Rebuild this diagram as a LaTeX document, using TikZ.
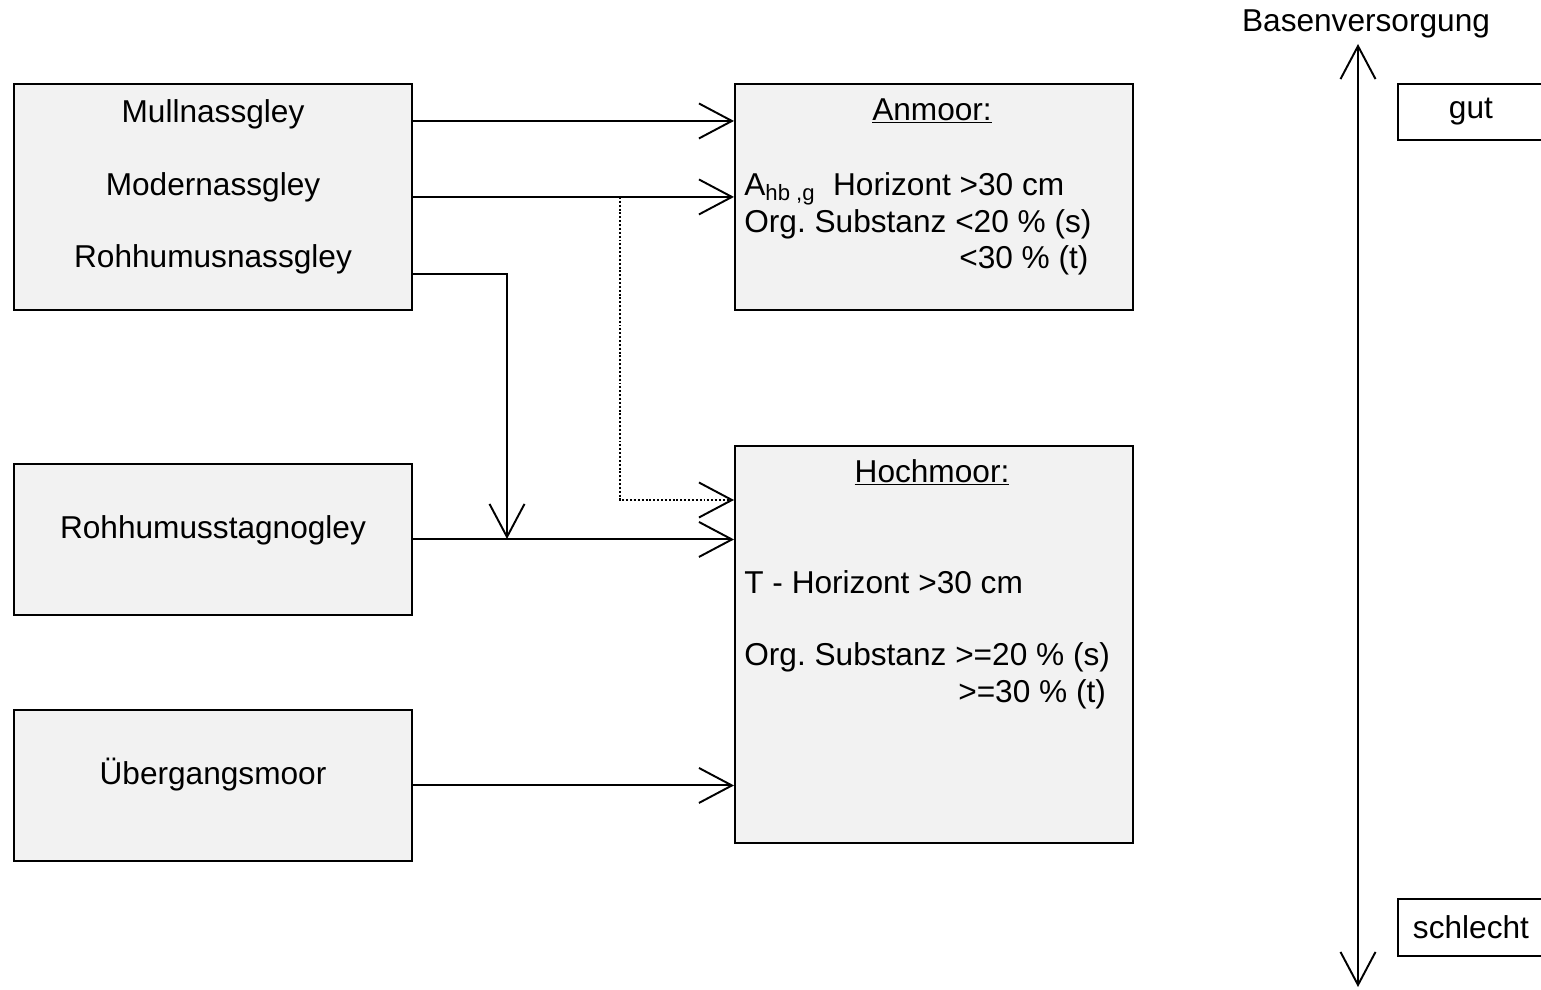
\documentclass[tikz,border=0pt]{standalone}
\usepackage{fontspec}
\setmainfont{Liberation Sans}
\usetikzlibrary{arrows.meta}
\usetikzlibrary{calc}
\definecolor{boxgray}{RGB}{242,242,242}
\frenchspacing

\tikzset{
  kasten/.style={draw, fill=boxgray, line width=1.1pt, inner sep=0pt, anchor=north west},
  pfeil/.style={->, line width=1.1pt},
  punktiert/.style={-{Straight Barb[length=0.66cm,width=0.7cm,line width=1.1pt]},
    line width=0.9pt, dash pattern=on 1.1pt off 1.1pt},
  txt/.style={inner sep=0pt, anchor=base},
  zeile/.style={inner sep=0pt, anchor=base west}
}

\begin{document}
\begin{tikzpicture}[x=0.02cm,y=-0.02cm,font=\fontsize{18}{21}\selectfont,
  >={Straight Barb[length=0.66cm,width=0.7cm]}]
\useasboundingbox (0,0) rectangle (1541,990);
% Kaesten
\node[kasten, minimum width=7.96cm, minimum height=4.52cm] (gley) at (13,83) {};
\node[kasten, minimum width=7.96cm, minimum height=4.52cm] (anmoor) at (734,83) {};
\node[kasten, minimum width=7.96cm, minimum height=3.02cm] (stagno) at (13,463) {};
\node[kasten, minimum width=7.96cm, minimum height=7.94cm] (hochmoor) at (734,445) {};
\node[kasten, minimum width=7.96cm, minimum height=3.02cm] (uebergang) at (13,709) {};
\node[kasten, fill=white, minimum width=2.92cm, minimum height=1.12cm] (gut) at (1397,83) {gut};
\node[kasten, fill=white, minimum width=2.92cm, minimum height=1.14cm] (schlecht) at (1397,898) {schlecht};

% Texte links
\node[txt] (mull) at (213,122) {Mullnassgley};
\node[txt] (moder) at (213,195) {Modernassgley};
\node[txt] (rohnass) at (213,267) {Rohhumusnassgley};
\node[txt] (rohstagno) at (213,538) {Rohhumusstagnogley};
\node[txt] (uebtxt) at (213,784) {Übergangsmoor};

% Anmoor
\node[txt] (anmtitel) at (932,120) {\underline{Anmoor:}};
\node[zeile] (anm1) at (744,195) {A\textsubscript{hb ,g}\ \ Horizont >30 cm};
\node[zeile] (anm2) at (744,232) {Org. Substanz <20 \% (s)};
\node[zeile] (anm3) at (744,268) {\hphantom{Org. Substanz }\hspace{0.08cm}<30 \% (t)};

% Hochmoor
\node[txt] (hochtitel) at (932,482) {\underline{Hochmoor:}};
\node[zeile] (hoch1) at (744,593) {T - Horizont >30 cm};
\node[zeile] (hoch2) at (744,665) {Org. Substanz >=20 \% (s)};
\node[zeile] (hoch3) at (744,702) {\hphantom{Org. Substanz }\hspace{0.06cm}>=30 \% (t)};

\node[txt] (basen) at (1366,32) {Basenversorgung};

% Pfeile
\coordinate (a1) at ([yshift=1.52cm]gley.east);
\coordinate (a2) at (gley.east);
\coordinate (a3) at ([yshift=-1.54cm]gley.east);
\coordinate (knick) at (507,539);
\coordinate (abzweig) at (620,197);
\coordinate (hochein) at ([yshift=-1.1cm]hochmoor.north west);
\coordinate (oben) at (1358,44);
\coordinate (unten) at (1358,987);

\draw[pfeil] (a1) -- (a1 -| anmoor.west);
\draw[pfeil] (a2) -- (a2 -| anmoor.west);
\draw[pfeil] (a3) -| (knick);
\draw[pfeil] (stagno.east) -- (stagno.east -| hochmoor.west);
\draw[punktiert] (abzweig) |- (hochein);
\draw[pfeil] (uebergang.east) -- (uebergang.east -| hochmoor.west);
\draw[pfeil, <->] (oben) -- (unten);

\end{tikzpicture}
\end{document}
